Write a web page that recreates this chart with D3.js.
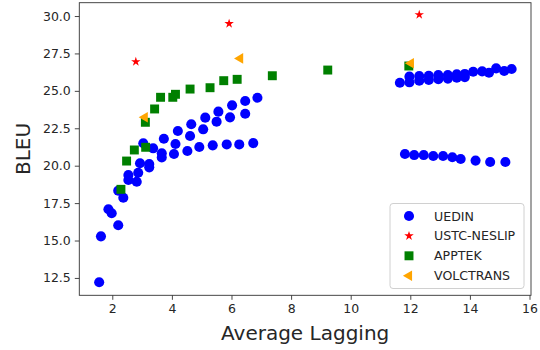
<!DOCTYPE html>
<html>
<head>
<meta charset="utf-8">
<script src="https://cdn.jsdelivr.net/npm/d3@7"></script>
<style>
  body { margin: 0; background: #fff; }
  svg { display: block; font-family: "DejaVu Sans", sans-serif; }
</style>
</head>
<body>
<div id="chart"></div>
<script>
// UEDIN (x = average lagging, y = BLEU)
var uedinX = [1.56, 1.62, 1.87, 1.98, 2.20, 2.20, 2.37, 2.54, 2.54, 2.82, 2.87, 2.93, 3.24, 3.24,
  3.04, 3.73, 4.20, 4.65, 5.12, 5.56, 6.02, 6.46, 6.87,
  3.37, 3.66, 4.12, 4.61, 5.05, 5.50, 5.95, 6.46,
  3.66, 4.07, 4.52, 4.92, 5.37, 5.84, 6.26, 6.73,
  11.65, 11.97, 12.30, 12.62, 12.94, 13.26, 13.56, 13.83,
  11.97, 12.30, 12.62, 12.94, 13.26, 13.56, 13.83, 14.11, 14.41, 14.64, 14.88, 15.15, 15.40,
  11.82, 12.13, 12.45, 12.77, 13.10, 13.41, 13.69, 14.19, 14.68, 15.19];
var uedinY = [12.21, 15.28, 17.09, 16.82, 16.02, 18.33, 17.86, 19.38, 19.04, 18.93, 19.53, 20.16, 20.11, 19.89,
  21.50, 21.80, 22.32, 22.77, 23.21, 23.61, 24.03, 24.32, 24.54,
  21.16, 20.83, 21.45, 21.98, 22.43, 22.94, 23.23, 23.47,
  20.55, 20.78, 20.98, 21.25, 21.36, 21.42, 21.42, 21.51,
  25.54, 25.57, 25.68, 25.73, 25.78, 25.82, 25.88, 25.92,
  25.95, 25.99, 26.01, 26.06, 26.06, 26.10, 26.13, 26.28, 26.30, 26.21, 26.50, 26.33, 26.46,
  20.78, 20.71, 20.71, 20.65, 20.65, 20.56, 20.45, 20.34, 20.25, 20.25];

var ustcX = [2.79, 5.92, 12.30];
var ustcY = [26.95, 29.49, 30.09];

var apptekX = [2.29, 2.48, 2.74, 3.12, 3.11, 3.42, 3.62, 4.03, 4.12, 4.61, 5.28, 5.74, 6.19, 7.37, 9.23, 11.95];
var apptekY = [18.42, 20.31, 21.05, 21.23, 22.90, 23.79, 24.57, 24.57, 24.77, 25.12, 25.21, 25.68, 25.77, 26.01, 26.39, 26.66];

var volcX = [3.09, 6.29, 12.02];
var volcY = [23.23, 27.17, 26.84];

var xTicks = [2, 4, 6, 8, 10, 12, 14, 16];
var yTicks = [12.5, 15.0, 17.5, 20.0, 22.5, 25.0, 27.5, 30.0];

var W = 540, H = 350;
var plot = { left: 79.3, right: 531, top: 2.7, bottom: 295.3 };

var x = d3.scaleLinear().domain([0.893, 16.05]).range([plot.left, plot.right]);
var y = d3.scaleLinear().domain([11.34, 30.89]).range([plot.bottom, plot.top]);

var svg = d3.select('#chart').append('svg')
  .attr('width', W)
  .attr('height', H);

function zip(xs, ys) {
  return xs.map(function(v, i) { return [v, ys[i]]; });
}

var series = [
  { name: 'UEDIN', data: zip(uedinX, uedinY), color: '#0000ff', type: d3.symbolCircle, size: 80, rot: 0 },
  { name: 'USTC-NESLIP', data: zip(ustcX, ustcY), color: '#ff0000', type: d3.symbolStar, size: 28, rot: 0 },
  { name: 'APPTEK', data: zip(apptekX, apptekY), color: '#008000', type: d3.symbolSquare, size: 80, rot: 0 },
  { name: 'VOLCTRANS', data: zip(volcX, volcY), color: '#ffa500', type: d3.symbolTriangle, size: 48, rot: -90 }
];

series.forEach(function(s) {
  var sym = d3.symbol().type(s.type).size(s.size);
  svg.append('g').selectAll('path').data(s.data)
    .enter().append('path')
    .attr('d', sym)
    .attr('transform', function(d) {
      return 'translate(' + x(d[0]) + ',' + y(d[1]) + ') rotate(' + s.rot + ')';
    })
    .style('fill', s.color);
});

// axes
var xAxis = d3.axisBottom(x).tickValues(xTicks).tickSize(4.5).tickPadding(4).tickFormat(d3.format('d'));
var yAxis = d3.axisLeft(y).tickValues(yTicks).tickSize(4.5).tickPadding(4).tickFormat(d3.format('.1f'));

var gx = svg.append('g').attr('transform', 'translate(0,' + plot.bottom + ')').call(xAxis);
var gy = svg.append('g').attr('transform', 'translate(' + plot.left + ',0)').call(yAxis);

[gx, gy].forEach(function(g) {
  g.select('.domain').remove();
  g.selectAll('line').style('stroke', '#333').style('stroke-width', 0.9);
  g.selectAll('text').style('font-size', '12.5px').style('fill', '#262626')
    .style('font-family', '"DejaVu Sans", sans-serif');
});

// frame
svg.append('rect')
  .attr('x', plot.left).attr('y', plot.top)
  .attr('width', plot.right - plot.left).attr('height', plot.bottom - plot.top)
  .style('fill', 'none').style('stroke', '#333').style('stroke-width', 0.9);

// axis labels
svg.append('text')
  .attr('x', (plot.left + plot.right) / 2)
  .attr('y', 340)
  .attr('text-anchor', 'middle')
  .style('font-size', '20px')
  .style('fill', '#262626')
  .text('Average Lagging');

svg.append('text')
  .attr('transform', 'translate(30,' + ((plot.top + plot.bottom) / 2) + ') rotate(-90)')
  .attr('text-anchor', 'middle')
  .style('font-size', '20px')
  .style('fill', '#262626')
  .text('BLEU');

// legend
var leg = svg.append('g');
leg.append('rect')
  .attr('x', 390).attr('y', 203.5)
  .attr('width', 134).attr('height', 85)
  .attr('rx', 3)
  .style('fill', '#fff').style('fill-opacity', 0.8)
  .style('stroke', '#d0d0d0');

series.forEach(function(s, i) {
  var cy = 216 + i * 19.9;
  leg.append('path')
    .attr('d', d3.symbol().type(s.type).size(s.size)())
    .attr('transform', 'translate(409,' + cy + ') rotate(' + s.rot + ')')
    .style('fill', s.color);
  leg.append('text')
    .attr('x', 434).attr('y', cy + 4.5)
    .style('font-size', '12.6px')
    .style('fill', '#262626')
    .text(s.name);
});
</script>
</body>
</html>
